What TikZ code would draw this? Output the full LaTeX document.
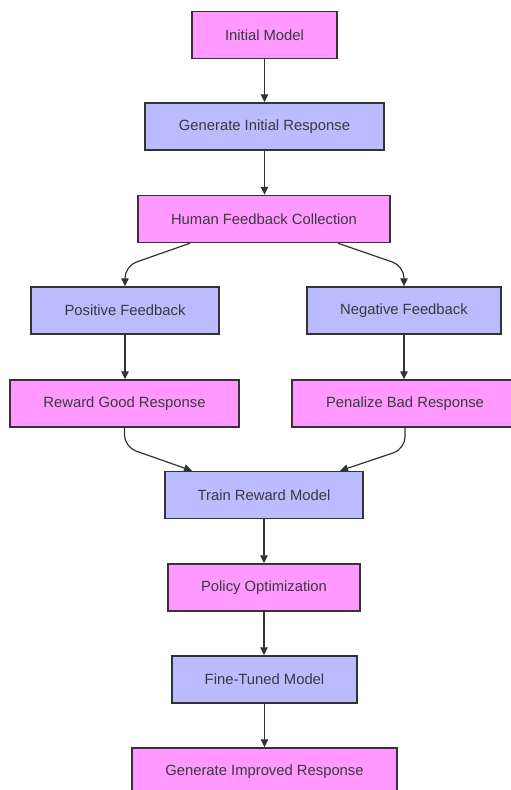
\documentclass[tikz,border=0pt]{standalone}
\usepackage{fontspec}
\setmainfont{Liberation Sans}
\usetikzlibrary{arrows.meta}
\definecolor{pinkfill}{HTML}{FF99FF}
\definecolor{lavfill}{HTML}{BBBBFF}
\definecolor{edgegray}{HTML}{333333}
\definecolor{txtgray}{HTML}{3A3A3A}
\tikzset{
  box/.style={draw=edgegray, line width=1.5pt, minimum height=47pt, inner sep=0pt,
    font=\fontsize{14.8pt}{17pt}\selectfont, text=txtgray},
  pinkbox/.style={box, fill=pinkfill},
  lavbox/.style={box, fill=lavfill},
  arr/.style={draw=edgegray, line width=1.2pt, -{Triangle[length=8pt,width=7.5pt]}},
}
\begin{document}
\begin{tikzpicture}[x=1pt,y=-1pt]
\useasboundingbox (0,0) rectangle (511,790);
\fill[white] (0,0) rectangle (511,790);
\node[pinkbox, minimum width=145pt] (init) at (264.5,35) {Initial Model};
\node[lavbox, minimum width=239pt] (gen) at (264.5,126.5) {Generate Initial Response};
\node[pinkbox, minimum width=252pt] (hfc) at (264,219) {Human Feedback Collection};
\node[lavbox, minimum width=188pt] (pos) at (125,310.5) {Positive Feedback};
\node[lavbox, minimum width=194pt] (neg) at (404,310.5) {Negative Feedback};
\node[pinkbox, minimum width=229pt] (rgr) at (124.5,403.5) {Reward Good Response};
\node[pinkbox, minimum width=226pt] (pbr) at (405,403.5) {Penalize Bad Response};
\node[lavbox, minimum width=198pt] (trm) at (264,495) {Train Reward Model};
\node[pinkbox, minimum width=192pt] (po) at (264,587.5) {Policy Optimization};
\node[lavbox, minimum width=185pt] (ftm) at (264.5,679.5) {Fine-Tuned Model};
\node[pinkbox, minimum width=265pt] (gir) at (264.5,771.5) {Generate Improved Response};

\coordinate (bl) at (125,266);
\coordinate (br) at (404,266);
\coordinate (cl) at (124.5,447);
\coordinate (cr) at (405,449);

\draw[arr] (init.south) -- (init.south |- gen.north);
\draw[arr] (gen.south) -- (gen.south |- hfc.north);
\draw[arr, rounded corners=12pt] ([xshift=-74pt]hfc.south) -- (bl) -- (bl |- pos.north);
\draw[arr, rounded corners=12pt] ([xshift=74pt]hfc.south) -- (br) -- (br |- neg.north);
\draw[arr] (pos.south) -- (pos.south |- rgr.north);
\draw[arr] (neg.south) -- (neg.south |- pbr.north);
\draw[arr, rounded corners=12pt] (rgr.south) -- (cl) -- ([xshift=-72pt]trm.north);
\draw[arr, rounded corners=12pt] (pbr.south) -- (cr) -- ([xshift=76pt]trm.north);
\draw[arr] (trm.south) -- (trm.south |- po.north);
\draw[arr] (po.south) -- (po.south |- ftm.north);
\draw[arr] (ftm.south) -- (ftm.south |- gir.north);
\end{tikzpicture}
\end{document}
